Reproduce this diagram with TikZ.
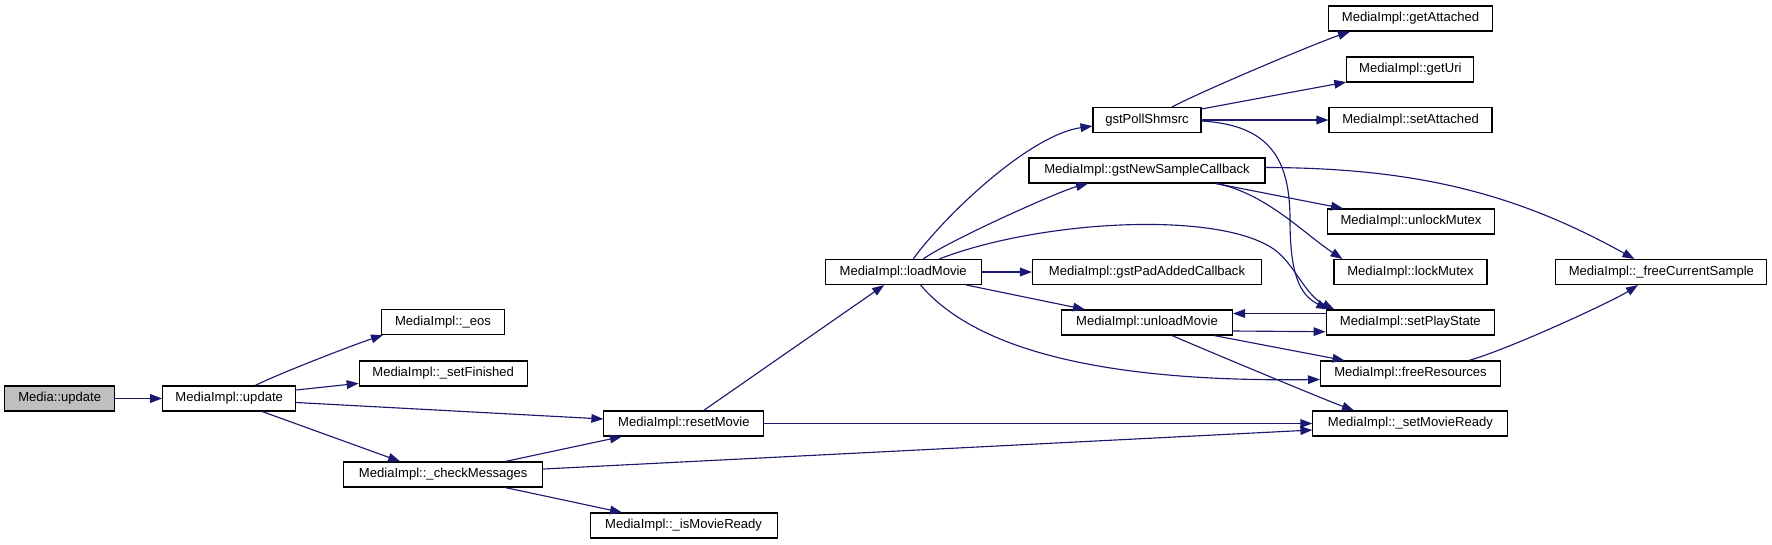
\documentclass[tikz,border=0pt]{standalone}
\usepackage{fontspec}
\setmainfont{Liberation Sans}
\usetikzlibrary{arrows.meta,calc}
\definecolor{edgec}{HTML}{191970}
\begin{document}
\begin{tikzpicture}[x=0.75pt,y=-0.75pt,
  box/.style={draw=black,line width=0.8pt,fill=white,inner sep=0pt,minimum height=25*0.75pt,font=\fontsize{9.8}{11}\selectfont},
  bw/.style={minimum width=#1*0.75pt},
  edge/.style={draw=edgec,line width=0.85pt,-{Triangle[length=9pt,width=6.5pt]}}]
\useasboundingbox (0,0) rectangle (1772,544);
% nodes
\node[box,bw=110,fill=gray!50] (mu) at (59.7,398.5) {Media::update};
\node[box,bw=133] (upd) at (229.2,398.5) {MediaImpl::update};
\node[box,bw=123] (eos) at (443,322) {MediaImpl::\_eos};
\node[box,bw=168] (setFin) at (443.2,373.5) {MediaImpl::\_setFinished};
\node[box,bw=199] (check) at (443.2,474.5) {MediaImpl::\_checkMessages};
\node[box,bw=160] (reset) at (683.9,423.5) {MediaImpl::resetMovie};
\node[box,bw=187] (isReady) at (683.6,525.5) {MediaImpl::\_isMovieReady};
\node[box,bw=156] (load) at (903.2,272) {MediaImpl::loadMovie};
\node[box,bw=108] (poll) at (1147,120) {gstPollShmsrc};
\node[box,bw=236] (newS) at (1147,170.5) {MediaImpl::gstNewSampleCallback};
\node[box,bw=229] (padA) at (1147,272) {MediaImpl::gstPadAddedCallback};
\node[box,bw=171] (unload) at (1147,322.5) {MediaImpl::unloadMovie};
\node[box,bw=164] (getAtt) at (1410.5,18.5) {MediaImpl::getAttached};
\node[box,bw=127] (getUri) at (1410.3,69.5) {MediaImpl::getUri};
\node[box,bw=163] (setAtt) at (1410.5,120) {MediaImpl::setAttached};
\node[box,bw=167] (unlockM) at (1411,221.5) {MediaImpl::unlockMutex};
\node[box,bw=153] (lockM) at (1410.5,272) {MediaImpl::lockMutex};
\node[box,bw=168.5] (setPS) at (1410.3,322.5) {MediaImpl::setPlayState};
\node[box,bw=180] (freeRes) at (1410.5,373.5) {MediaImpl::freeResources};
\node[box,bw=195] (setMR) at (1410.4,423.5) {MediaImpl::\_setMovieReady};
\node[box,bw=211] (freeCS) at (1661.4,272) {MediaImpl::\_freeCurrentSample};
% edges
\draw[edge] (mu) -- (upd);
\draw[edge] ($(upd.north)+(26,0)$) .. controls +(24,-12) and +(-30,10) .. ($(eos.south)+(-60,0)$);
\draw[edge] ($(upd.east)+(0,-8.5)$) -- ($(setFin.west)+(0,9.8)$);
\draw[edge] ($(upd.east)+(0,4)$) -- ($(reset.west)+(0,-4.5)$);
\draw[edge] ($(upd.south)+(33,0)$) -- ($(check.north)+(-43,0)$);
\draw[edge] ($(check.north)+(62,0)$) -- ($(reset.south)+(-62,0)$);
\draw[edge] ($(check.east)+(0,-5.5)$) -- ($(setMR.west)+(0,6.5)$);
\draw[edge] ($(check.south)+(62,0)$) -- ($(isReady.north)+(-61.6,0)$);
\draw[edge] ($(reset.north)+(19.7,0)$) -- ($(load.south)+(-19,0)$);
\draw[edge] (reset) -- (setMR);
\draw[edge] ($(load.north)+(10,0)$) .. controls +(32,-44) and +(-63,9) .. ($(poll.west)+(0,6)$);
\draw[edge] ($(load.north)+(20,0)$) .. controls +(25,-18) and +(-30,8) .. ($(newS.south)+(-59,0)$);
\draw[edge] ($(load.north)+(36,0)$) .. controls +(101,-39) and (1220,210) .. (1275,250) .. controls (1295,265) and (1305,295) .. ($(setPS.north)+(-76,0)$);
\draw[edge] (load) -- (padA);
\draw[edge] ($(load.south)+(63.3,0)$) -- ($(unload.north)+(-62,0)$);
\draw[edge] ($(load.south)+(17.4,0)$) .. controls +(59.4,70) and +(-200,2.5) .. ($(freeRes.west)+(0,6)$);
\draw[edge] ($(poll.north)+(25,0)$) .. controls +(30,-16) and +(-35,12) .. ($(getAtt.south)+(-60.5,0)$);
\draw[edge] ($(poll.north east)+(0,2)$) -- ($(getUri.south west)+(0,-0.5)$);
\draw[edge] (poll) -- (setAtt);
\draw[edge] ($(poll.east)+(0,1)$) .. controls +(69,4) and (1290,160) .. (1290,220) .. controls (1290,275) and (1300,295) .. ($(setPS.north)+(-82,0)$);
\draw[edge] ($(newS.east)+(0,-3)$) .. controls +(155,0.3) and +(-114.5,-63.5) .. ($(freeCS.north)+(-27,0)$);
\draw[edge] ($(newS.south)+(69,0)$) -- ($(unlockM.north)+(-68,0)$);
\draw[edge] ($(newS.south)+(69,0)$) .. controls +(49,9) and +(-37.5,-24.5) .. ($(lockM.north)+(-68,0)$);
\draw[edge] ($(unload.east)+(0,8.5)$) -- ($(setPS.west)+(0,9.2)$);
\draw[edge] ($(setPS.west)+(0,-9)$) -- ($(unload.east)+(0,-9)$);
\draw[edge] ($(unload.south)+(67,0)$) -- ($(freeRes.north)+(-66,0)$);
\draw[edge] ($(unload.south)+(25,0)$) .. controls +(30,13) and +(-30,-11) .. ($(setMR.north)+(-56.4,0)$);
\draw[edge] ($(freeRes.north)+(58.3,0)$) .. controls +(42,-12) and +(-25,16) .. ($(freeCS.south)+(-23.4,0)$);
\end{tikzpicture}
\end{document}
